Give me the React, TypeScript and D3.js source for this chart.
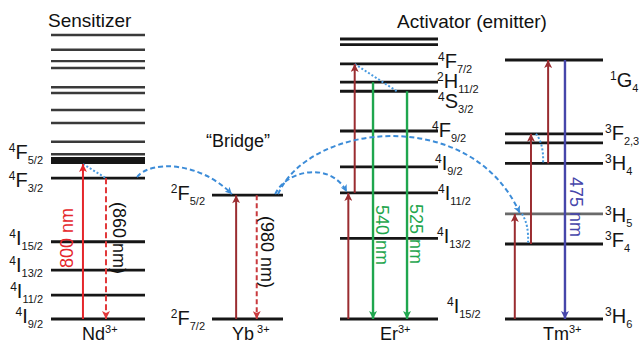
import * as d3 from 'd3'

// energy levels (arbitrary units, ~10^3 cm-1), top to bottom
const ndEnergy = [25.0, 23.7, 22.7, 22.1, 20.4, 19.9, 18.4, 17.25, 15.6, 14.5, 13.95, 12.4, 6.8, 4.3, 2.1, 0]
const ndTerms = ['', '', '', '', '', '', '', '', '', '', '4F5/2', '4F3/2', '4I15/2', '4I13/2', '4I11/2', '4I9/2']

const ybEnergy = [10.9, 0]
const ybTerms = ['2F5/2', '2F7/2']

const erEnergy = [24.65, 24.15, 22.45, 20.85, 20.05, 16.55, 13.4, 11.1, 7.1, 0]
const erTerms = ['', '', '4F7/2', '2H11/2', '4S3/2', '4F9/2', '4I9/2', '4I11/2', '4I13/2', '4I15/2']

const tmEnergy = [22.8, 16.3, 15.5, 13.7, 9.25, 6.6, 0]
const tmTerms = ['1G4', '3F2,3', '', '3H4', '3H5', '3F4', '3H6']

const ions = ['Nd', 'Yb', 'Er', 'Tm']
const ionLevels: Record<string, { e: number[]; t: string[] }> = {
  Nd: { e: ndEnergy, t: ndTerms },
  Yb: { e: ybEnergy, t: ybTerms },
  Er: { e: erEnergy, t: erTerms },
  Tm: { e: tmEnergy, t: tmTerms },
}

// radiative transitions
const transitions = [
  { id: 'nd-pump', ion: 'Nd', from: '4I9/2', to: '4F5/2', kind: 'red', label: '800 nm' },
  { id: 'nd-emit', ion: 'Nd', from: '4F3/2', to: '4I9/2', kind: 'redDash', label: '(860 nm)' },
  { id: 'yb-pump', ion: 'Yb', from: '2F7/2', to: '2F5/2', kind: 'dark', label: '' },
  { id: 'yb-emit', ion: 'Yb', from: '2F5/2', to: '2F7/2', kind: 'ybDash', label: '(980 nm)' },
  { id: 'er-p1', ion: 'Er', from: '4I15/2', to: '4I11/2', kind: 'dark', label: '' },
  { id: 'er-p2', ion: 'Er', from: '4I11/2', to: '4F7/2', kind: 'dark', label: '' },
  { id: 'er-540', ion: 'Er', from: '2H11/2', to: '4I15/2', kind: 'green', label: '540 nm' },
  { id: 'er-525', ion: 'Er', from: '4S3/2', to: '4I15/2', kind: 'green', label: '525 nm' },
  { id: 'tm-p1', ion: 'Tm', from: '3H6', to: '3H5', kind: 'dark', label: '' },
  { id: 'tm-p2', ion: 'Tm', from: '3F4', to: '3F2,3', kind: 'dark', label: '' },
  { id: 'tm-p3', ion: 'Tm', from: '3H4', to: '1G4', kind: 'dark', label: '' },
  { id: 'tm-475', ion: 'Tm', from: '1G4', to: '3H6', kind: 'blue', label: '475 nm' },
]

// non-radiative relaxation (dotted)
const relaxations = [
  { id: 'nd-r', ion: 'Nd', from: '4F5/2', to: '4F3/2' },
  { id: 'er-r', ion: 'Er', from: '4F7/2', to: '4S3/2' },
  { id: 'tm-r1', ion: 'Tm', from: '3F2,3', to: '3H4' },
  { id: 'tm-r2', ion: 'Tm', from: '3H5', to: '3F4' },
]

// energy transfer (dashed curves)
const transfers = [
  { id: 'nd-yb', from: ['Nd', '4F3/2'], to: ['Yb', '2F5/2'] },
  { id: 'yb-er', from: ['Yb', '2F5/2'], to: ['Er', '4I11/2'] },
  { id: 'yb-tm', from: ['Yb', '2F5/2'], to: ['Tm', '3H5'] },
]

const ionSuffix = ['3+', ' 3+', '3+', '3+']

// ---- layout ----
const W = 639
const H = 344
const FONT = 'Liberation Sans, Arial, Helvetica, sans-serif'
const y = d3.scaleLinear().domain([0, 25]).range([319, 35])
const columns: Record<string, [number, number]> = { Nd: [51, 145], Yb: [212, 283], Er: [340, 438], Tm: [505, 603] }
const cx = (ion: string) => d3.scaleLinear().domain([0, 1]).range(columns[ion])

const arrowAt: Record<string, number> = {
  'nd-pump': 0.34, 'nd-emit': 0.585, 'yb-pump': 0.34, 'yb-emit': 0.63,
  'er-p1': 0.085, 'er-p2': 0.15, 'er-540': 0.337, 'er-525': 0.684,
  'tm-p1': 0.1, 'tm-p2': 0.265, 'tm-p3': 0.44, 'tm-475': 0.612,
}
const labelPos: Record<string, { dx: number; cy: number; rot: number }> = {
  'nd-pump': { dx: -10, cy: 238, rot: -90 },
  'nd-emit': { dx: 7, cy: 238, rot: 90 },
  'yb-emit': { dx: 4, cy: 252, rot: 90 },
  'er-540': { dx: 3, cy: 235, rot: 90 },
  'er-525': { dx: 3, cy: 234, rot: 90 },
  'tm-475': { dx: 5, cy: 207, rot: 90 },
}
const relaxAt: Record<string, [number, number]> = {
  'nd-r': [0.34, 0.585], 'er-r': [0.15, 0.58], 'tm-r1': [0.316, 0.388], 'tm-r2': [0.173, 0.235],
}
const transferAt: Record<string, { a: number; b: number; fx: number; tx: number; h1: number; h2: number }> = {
  'nd-yb': { fx: 0.915, tx: 0.28, a: 0.14, b: 0.66, h1: 17, h2: 33 },
  'yb-er': { fx: 0.89, tx: 0.07, a: 0.14, b: 0.76, h1: 23, h2: 32 },
  'yb-tm': { fx: 0.93, tx: 0.15, a: 0.13, b: 0.8, h1: 72, h2: 108 },
}
const termPos: Record<string, [number, number]> = {
  'Nd:4F5/2': [43, -1.5], 'Nd:4F3/2': [43, 9], 'Nd:4I15/2': [43, 3], 'Nd:4I13/2': [43, 2],
  'Nd:4I11/2': [43, 3], 'Nd:4I9/2': [43, 4],
  'Yb:2F5/2': [205, 5], 'Yb:2F7/2': [205, 6],
  'Er:4F7/2': [438, 4], 'Er:2H11/2': [437, 6], 'Er:4S3/2': [438, 17], 'Er:4F9/2': [432, 6],
  'Er:4I9/2': [435, 3], 'Er:4I11/2': [438, 7], 'Er:4I13/2': [437, 5], 'Er:4I15/2': [447, -6],
  'Tm:1G4': [610, 27], 'Tm:3F2,3': [605, 6], 'Tm:3H4': [605, 7], 'Tm:3H5': [605, 8],
  'Tm:3F4': [605, 3], 'Tm:3H6': [605, 4],
}
const ionLabelX: Record<string, number> = { Nd: 82, Yb: 232, Er: 380, Tm: 543 }

const kindStyle: Record<string, { color: string; dash?: string; width: number; text: string }> = {
  red: { color: '#e5262b', width: 2, text: '#e5262b' },
  redDash: { color: '#e2383a', dash: '6,3', width: 2, text: '#111' },
  dark: { color: '#9a2c30', width: 2, text: '#111' },
  ybDash: { color: '#c93a3e', dash: '5,3', width: 2, text: '#111' },
  green: { color: '#1fa64e', width: 2.4, text: '#1fa64e' },
  blue: { color: '#4646aa', width: 2.4, text: '#4646aa' },
}
const BLUE = '#3c8cd8'
const BAND = '4F5/2' // drawn as a thick band

const levelY = (ion: string, term: string) => {
  const L = ionLevels[ion]
  return y(L.e[L.t.indexOf(term)])
}

function Term({ term, x, yy, anchor }: { term: string; x: number; yy: number; anchor: string }) {
  const m = term.match(/^(\d)([A-Z])(.*)$/)
  if (!m) return null
  return (
    <text x={x} y={yy} textAnchor={anchor} fontFamily={FONT} fill="#151515">
      <tspan fontSize={12} dy={-7}>{m[1]}</tspan>
      <tspan fontSize={20} dy={7}>{m[2]}</tspan>
      <tspan fontSize={11} dy={5}>{m[3]}</tspan>
    </text>
  )
}

export default function App() {
  const markerColors: Record<string, string> = {
    red: kindStyle.red.color, redDash: kindStyle.redDash.color, dark: kindStyle.dark.color,
    ybDash: kindStyle.ybDash.color, green: kindStyle.green.color, blue: kindStyle.blue.color, tr: BLUE,
  }

  return (
    <svg width={W} height={H} style={{ position: 'absolute', left: 0, top: 0, background: '#fff' }}>
      <defs>
        {Object.entries(markerColors).map(([k, c]) => (
          <marker key={k} id={`ah-${k}`} viewBox="0 0 10 10" refX={10} refY={5}
            markerWidth={k === 'tr' ? 7 : 9} markerHeight={k === 'tr' ? 7 : 8}
            markerUnits="userSpaceOnUse" orient="auto">
            <path d="M0,0 L10,5 L0,10 L2.5,5 z" fill={c} />
          </marker>
        ))}
      </defs>

      {/* titles */}
      <text x={48} y={27} fontFamily={FONT} fontSize={19} fill="#111">Sensitizer</text>
      <text x={397} y={28} fontFamily={FONT} fontSize={19} fill="#111">Activator (emitter)</text>
      <text x={206} y={147} fontFamily={FONT} fontSize={18} fill="#111">“Bridge”</text>

      {/* levels */}
      {ions.map(ion => {
        const L = ionLevels[ion]
        const [x0, x1] = columns[ion]
        return L.e.map((e, i) => {
          const t = L.t[i]
          const band = ion === 'Nd' && t === BAND
          const faint = ion === 'Nd' && !t
          const grey = ion === 'Tm' && t === '3H5'
          return (
            <line key={ion + i} x1={x0} x2={x1} y1={y(e)} y2={y(e)}
              stroke={grey ? '#6a6a6a' : faint ? '#3a3a3a' : '#161616'}
              strokeWidth={band ? 7 : faint ? 2.4 : 2.8} />
          )
        })
      })}

      {/* term labels */}
      {ions.map(ion => {
        const L = ionLevels[ion]
        return L.t.map((t, i) => {
          if (!t) return null
          const p = termPos[`${ion}:${t}`]
          return <Term key={ion + t} term={t} x={p[0]} yy={y(L.e[i]) + p[1]}
            anchor={ion === 'Nd' || ion === 'Yb' ? 'end' : 'start'} />
        })
      })}

      {/* relaxation dotted */}
      {relaxations.map(r => {
        const sx = cx(r.ion)
        const [fa, ta] = relaxAt[r.id]
        const x0 = sx(fa), x1 = sx(ta)
        const y0 = levelY(r.ion, r.from) + (r.from === BAND ? 3.5 : 0)
        const y1 = levelY(r.ion, r.to)
        const d = r.ion === 'Tm'
          ? `M${x0},${y0} Q${x1 + 1},${y0 + 0.35 * (y1 - y0)} ${x1},${y1}`
          : `M${x0},${y0} L${x1},${y1}`
        return <path key={r.id} d={d} fill="none" stroke="#4a9be0" strokeWidth={2} strokeDasharray="2,2" />
      })}

      {/* transitions */}
      {transitions.map(t => {
        const s = kindStyle[t.kind]
        const x = cx(t.ion)(arrowAt[t.id])
        const y0 = levelY(t.ion, t.from)
        let y1 = levelY(t.ion, t.to)
        if (t.to === BAND) y1 += 3.5
        const lp = labelPos[t.id]
        return (
          <g key={t.id}>
            <line x1={x} x2={x} y1={y0} y2={y1} stroke={s.color} strokeWidth={s.width}
              strokeDasharray={s.dash} markerEnd={`url(#ah-${t.kind})`} />
            {t.label && lp && (
              <text transform={`translate(${x + lp.dx},${lp.cy}) rotate(${lp.rot})`} textAnchor="middle"
                fontFamily={FONT} fontSize={18} fill={s.text}>
                {t.label}
              </text>
            )}
          </g>
        )
      })}

      {/* energy transfer curves */}
      {transfers.map(tr => {
        const p = transferAt[tr.id]
        const x0 = cx(tr.from[0])(p.fx), y0 = levelY(tr.from[0], tr.from[1]) - 1
        const x1 = cx(tr.to[0])(p.tx), y1 = levelY(tr.to[0], tr.to[1]) - 1
        const path = d3.path()
        path.moveTo(x0, y0)
        path.bezierCurveTo(x0 + p.a * (x1 - x0), y0 - p.h1, x0 + p.b * (x1 - x0), y1 - p.h2, x1, y1)
        return <path key={tr.id} d={path.toString()} fill="none" stroke={BLUE} strokeWidth={2}
          strokeDasharray="5,3" markerEnd="url(#ah-tr)" />
      })}

      {/* ion labels */}
      {ions.map((ion, i) => (
        <text key={ion} x={ionLabelX[ion]} y={340} fontFamily={FONT} fontSize={18} fill="#111">
          {ion}
          <tspan fontSize={11} dy={-7}>{ionSuffix[i]}</tspan>
        </text>
      ))}
    </svg>
  )
}
